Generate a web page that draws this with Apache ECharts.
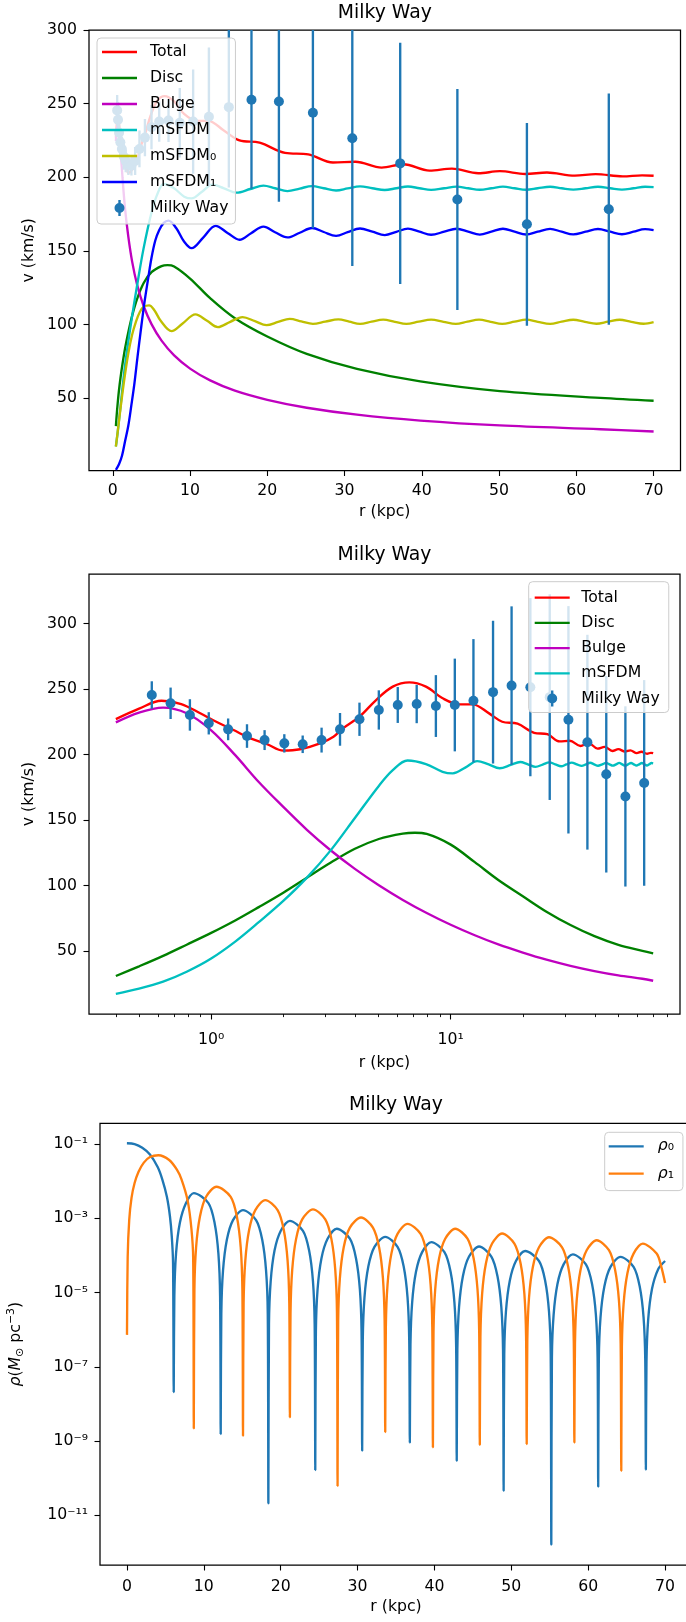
<!DOCTYPE html>
<html>
<head>
<meta charset="utf-8">
<script src="https://cdn.jsdelivr.net/npm/echarts@6.0.0/dist/echarts.min.js"></script>
<style>
html,body{margin:0;padding:0;background:#fff;}
#chart{width:686px;height:1622px;}
</style>
</head>
<body>
<div id="chart"></div>
<script>
// ---------------- DATA ----------------
// Rotation curve components (km/s) vs r (kpc)
const rTotal = [0.4,0.5,0.62,0.75,0.9,1.05,1.24,1.45,1.71,2.0,2.35,2.85,3.24,3.55,4.16,4.88,5.73,6.72,7.88,9.25,10.85,12.33,14.46,16.4,19.0,22.3,25.3,28.5,31.4,34.8,37.6,41.0,43.9,47.3,50.1,53.4,56.2,59.8,62.5,66.0,68.5,70];
const vTotal = [227,235,241,238.5,231.5,225,218.7,212.5,208,203,204,208.5,213.6,220,228.9,241.6,251.8,255.1,251.8,242.9,238.3,238.3,231.4,225,223.5,216.5,215.5,210,210.5,206.5,208.8,204.5,205.8,202.7,204.1,202.2,203.2,201.1,202.1,200.6,201.3,201];

const rDisc = [0.4,0.5,0.63,0.79,1.0,1.26,1.58,2.0,2.51,3.16,3.98,5.01,6.31,7.08,7.94,10,12.6,15.8,20,25.1,31.6,39.8,50.1,63.1,70];
const vDisc = [30.9,38.3,46.3,54.8,63.8,73.3,83.5,94.5,106,117.5,128,135.5,139.6,140.3,139.4,131.2,117.8,104.2,91.8,80,69.8,61.3,54.7,50.1,48.2];

const rBulge = [0.4,0.5,0.63,0.79,1.0,1.26,1.58,2.0,2.51,3.16,3.98,5.01,6.31,7.94,10,12.6,15.8,20,25.1,31.6,39.8,50.1,63.1,70];
const vBulge = [224.5,232,235.8,231.5,218.5,199.5,179,160,142.5,126.7,112.7,100.2,89,79,70,62,55,48.8,43.4,38.7,34.7,31.4,28.8,27.3];

const rSFDM = [0.4,0.5,0.63,0.79,1.0,1.26,1.58,2.0,2.51,3.16,3.98,5.01,5.73,6.6,7.88,9.25,10.2,11.5,12.9,14.4,16.0,17.8,19.5,21.0,22.6,24.2,25.8,27.3,28.9,30.4,32.0,33.6,35.2,36.7,38.2,39.7,41.2,42.9,44.5,46.0,47.5,49.0,50.5,52.0,53.5,55.0,56.6,58.1,59.6,61.2,62.8,64.4,65.9,67.4,68.9,70];
const vSFDM = [17.2,21.2,26.6,34.2,44.3,57.2,72,88.2,106,127,151.5,176,188,195.4,192.7,186.8,185.6,190,195,192.5,189.5,192,194.3,192.5,190.6,192.3,194,192.5,191,192.4,193.8,192.5,191.3,192.5,193.7,192.5,191.4,192.5,193.6,192.5,191.5,192.5,193.6,192.5,191.5,192.5,193.5,192.5,191.6,192.5,193.5,192.5,191.6,192.5,193.5,193.3];

const rSFDM0 = [0.4,0.7,1.0,1.5,2.0,2.5,3.0,3.5,4.0,4.7,5.4,6.2,7.6,9.0,10.7,12.2,13.6,15.2,16.8,18.4,19.9,21.4,22.9,24.4,25.9,27.5,29.2,30.6,32.0,33.5,35.0,36.5,38.0,39.6,41.2,42.8,44.4,45.9,47.4,48.9,50.4,52.0,53.5,55.0,56.6,58.1,59.6,61.1,62.6,64.1,65.6,67.1,68.7,70];
const vSFDM0 = [17,30,43,63,80,93,102,108.5,112,113,109.5,102.5,95.5,100.5,106.8,102.5,98.2,101.8,105,102.2,99.5,101.7,103.8,102.1,100.4,101.9,103.4,101.9,100.4,101.9,103.3,101.8,100.4,101.9,103.3,101.8,100.4,101.9,103.3,101.8,100.4,101.9,103.3,101.8,100.4,101.9,103.2,101.8,100.5,101.9,103.2,101.8,100.5,101.6];

const rSFDM1 = [0.4,0.8,1.2,1.6,2.0,2.4,2.8,3.2,3.6,4.1,4.6,5.0,5.5,6.0,6.6,7.2,8.2,9.2,10.2,11.7,13.3,14.9,16.4,17.9,19.5,21.0,22.6,24.2,25.8,27.3,28.9,30.4,32.0,33.6,35.2,36.7,38.2,39.7,41.2,42.9,44.5,46.0,47.5,49.0,50.5,52.0,53.5,55.0,56.6,58.1,59.6,61.2,62.8,64.4,65.9,67.4,68.9,70];
const vSFDM1 = [1.2,5,11,21,31,45,60,78,95,115,132,145,157,164,169,170.5,165.5,156.5,151.8,159,167,162,157.5,162,166.4,162.6,159.1,162.3,165.5,162.8,160.2,162.7,165.2,163,160.7,162.9,165.1,163,160.9,163,165,163,161,163,165,163,161.1,163,164.9,163,161.2,163,164.8,163,161.3,163,164.7,164.1];

// Milky Way observations: r (kpc), v (km/s), error (km/s)
const rMW = [0.565,0.677,0.815,0.977,1.177,1.411,1.671,2.02,2.41,2.89,3.45,4.16,5.01,6.01,7.21,8.67,10.4,12.44,15.02,17.95,21.5,25.9,31.0,37.2,44.6,53.6,64.2];
const vMW = [245.4,239.1,230.2,223.8,219.2,214.1,211.0,208.5,207.8,211.0,219.2,226.9,234.0,237.8,238.5,237.0,237.8,241.1,247.6,252.6,251.4,243.8,226.5,209.4,184.9,168.0,178.3];
const eMW = [10.5,12,12,8.5,8.3,9,7.6,7,6.7,9.5,12.5,12.7,15,13.7,14.6,23.6,35.4,47,54.5,60.5,68,78.5,86.8,82,75,68.8,78.5];

// Densities rho0, rho1 (M_sun pc^-3) vs r (kpc)
const rRho0 = [0,1,2,3,4,4.6,5.2,5.6,5.84,6.0,6.09,
6.17,6.39,6.89,7.69,8.7,10.6,11.4,11.9,12.12,12.2,
12.28,12.5,13.0,13.8,15.1,16.8,17.6,18.1,18.32,18.4,
18.48,18.7,19.2,20.0,21.2,22.9,23.7,24.2,24.42,24.5,
24.58,24.8,25.3,26.1,27.3,29.0,29.8,30.3,30.52,30.6,
30.68,30.9,31.4,32.2,33.6,35.2,36.0,36.5,36.72,36.8,
36.88,37.1,37.6,38.4,39.6,41.3,42.1,42.6,42.82,42.9,
42.98,43.2,43.7,44.5,45.8,47.4,48.2,48.7,48.92,49.0,
49.08,49.3,49.8,50.6,51.8,53.6,54.4,54.9,55.12,55.2,
55.28,55.5,56.0,56.8,58.0,59.7,60.5,61.0,61.22,61.3,
61.38,61.6,62.1,62.9,64.2,65.9,66.7,67.2,67.42,67.5,
67.58,67.8,68.3,69.1,70.0];
const rho0 = [1.05e-1,1.0e-1,7.94e-2,5.25e-2,2.40e-2,1.12e-2,3.80e-3,1.12e-3,3.16e-4,6.31e-5,2.09e-8,
7.94e-6,1.12e-4,7.59e-4,2.57e-3,4.79e-3,2.57e-3,7.59e-4,1.12e-4,7.94e-6,1.55e-9,
2.75e-6,3.89e-5,2.63e-4,8.91e-4,1.66e-3,8.91e-4,2.63e-4,3.89e-5,2.75e-6,2.09e-11,
1.41e-6,2.0e-5,1.35e-4,4.57e-4,8.51e-4,4.57e-4,1.35e-4,2.0e-5,1.41e-6,1.66e-10,
8.71e-7,1.23e-5,8.32e-5,2.82e-4,5.25e-4,2.82e-4,8.32e-5,1.23e-5,8.71e-7,5.50e-10,
5.25e-7,7.41e-6,5.01e-5,1.70e-4,3.16e-4,1.70e-4,5.01e-5,7.41e-6,5.25e-7,9.12e-10,
3.80e-7,5.37e-6,3.63e-5,1.23e-4,2.29e-4,1.23e-4,3.63e-5,5.37e-6,3.80e-7,2.95e-10,
2.88e-7,4.07e-6,2.75e-5,9.33e-5,1.74e-4,9.33e-5,2.75e-5,4.07e-6,2.88e-7,4.57e-11,
2.19e-7,3.09e-6,2.09e-5,7.08e-5,1.32e-4,7.08e-5,2.09e-5,3.09e-6,2.19e-7,1.62e-12,
1.78e-7,2.51e-6,1.70e-5,5.75e-5,1.07e-4,5.75e-5,1.70e-5,2.51e-6,1.78e-7,5.89e-11,
1.51e-7,2.14e-6,1.45e-5,4.90e-5,9.12e-5,4.90e-5,1.45e-5,2.14e-6,1.51e-7,1.70e-10,
1.32e-7,1.86e-6,1.26e-5,4.27e-5,7.08e-5];

const rRho1 = [0.01,0.1,0.3,0.6,1.0,1.5,2.2,3.0,4.1,5.5,6.5,7.1,7.9,8.4,8.62,8.7,
8.78,9.0,9.5,10.3,11.65,13.5,14.3,14.8,15.02,15.1,
15.18,15.4,15.9,16.7,18.0,19.6,20.4,20.9,21.12,21.2,
21.28,21.5,22.0,22.8,24.2,25.8,26.6,27.1,27.32,27.4,
27.48,27.7,28.2,29.0,30.45,32.0,32.8,33.3,33.52,33.6,
33.68,33.9,34.4,35.2,36.5,38.2,39.0,39.5,39.72,39.8,
39.88,40.1,40.6,41.4,42.7,44.3,45.1,45.6,45.82,45.9,
45.98,46.2,46.7,47.5,48.8,50.4,51.2,51.7,51.92,52.0,
52.08,52.3,52.8,53.6,54.9,56.6,57.4,57.9,58.12,58.2,
58.28,58.5,59.0,59.8,61.1,62.7,63.5,64.0,64.22,64.3,
64.38,64.6,65.1,65.9,67.1,68.9,69.5,70.0];
const rho1 = [7.24e-7,8.91e-5,8.91e-4,3.55e-3,8.91e-3,1.78e-2,3.16e-2,4.47e-2,5.01e-2,3.72e-2,2.04e-2,1.12e-2,3.0e-3,5.0e-4,8.32e-5,2.19e-9,
1.17e-5,1.66e-4,1.12e-3,3.80e-3,7.08e-3,3.80e-3,1.12e-3,1.66e-4,1.17e-5,1.38e-9,
5.13e-6,7.24e-5,4.90e-4,1.66e-3,3.09e-3,1.66e-3,4.90e-4,7.24e-5,5.13e-6,4.37e-9,
2.88e-6,4.07e-5,2.75e-4,9.33e-4,1.74e-3,9.33e-4,2.75e-4,4.07e-5,2.88e-6,6.17e-11,
1.74e-6,2.45e-5,1.66e-4,5.62e-4,1.05e-3,5.62e-4,1.66e-4,2.45e-5,1.74e-6,1.74e-9,
1.17e-6,1.66e-5,1.12e-4,3.80e-4,7.08e-4,3.80e-4,1.12e-4,1.66e-5,1.17e-6,6.76e-10,
8.71e-7,1.23e-5,8.32e-5,2.82e-4,5.25e-4,2.82e-4,8.32e-5,1.23e-5,8.71e-7,7.94e-10,
6.46e-7,9.12e-6,6.17e-5,2.09e-4,3.89e-4,2.09e-4,6.17e-5,9.12e-6,6.46e-7,8.32e-10,
5.13e-7,7.24e-6,4.90e-5,1.66e-4,3.09e-4,1.66e-4,4.90e-5,7.24e-6,5.13e-7,9.12e-10,
4.27e-7,6.03e-6,4.07e-5,1.38e-4,2.57e-4,1.38e-4,4.07e-5,6.03e-6,4.27e-7,1.58e-10,
3.47e-7,4.90e-6,3.31e-5,1.12e-4,2.09e-4,1.12e-4,5.01e-5,1.82e-5];

// Tick values
const xTicksLin = [0,10,20,30,40,50,60,70];
const yTicksV = [50,100,150,200,250,300];
const xTicksLog = [1,10];
const xMinorLog = [0.4,0.5,0.6,0.7,0.8,0.9,2,3,4,5,6,7,8,9,20,30,40,50,60,70,80];
const yTicksRho = [1e-11,1e-9,1e-7,1e-5,1e-3,1e-1];

// ---------------- STYLE ----------------
const FONT = 'DejaVu Sans';
const FS = 15.7;
const COL = {total:'#ff0000', disc:'#008000', bulge:'#bf00bf', sfdm:'#00bfbf', sfdm0:'#bfbf00', sfdm1:'#0000ff', mw:'#1f77b4', rho0:'#1f77b4', rho1:'#ff7f0e'};
const LW = 2.35;
const SUP = {'-':'⁻','0':'⁰','1':'¹','2':'²','3':'³','4':'⁴','5':'⁵','6':'⁶','7':'⁷','8':'⁸','9':'⁹'};
const pow10Label = v => '10' + String(Math.round(Math.log10(v))).split('').map(c => SUP[c]).join('');
const pts = (xs, ys) => xs.map((x, i) => [x, ys[i]]);

const lineIcon = (w, h) => `path://M0,0M${w},${h}M0,${h/2-1.17}L35,${h/2-1.17}L35,${h/2+1.17}L0,${h/2+1.17}Z`;
const errIcon = (w, h) => `path://M0,0M${w},${h}M16.3,0L18.7,0L18.7,${h}L16.3,${h}ZM12.5,${h/2}A5,5,0,1,1,22.5,${h/2}A5,5,0,1,1,12.5,${h/2}Z`;

const labelStyle = {fontFamily: FONT, fontSize: FS, color: '#000', lineHeight: 18};
const tickStyle = (vals, len) => ({show: true, inside: false, customValues: vals, length: len, lineStyle: {color: '#000', width: 1.1}});

function xAxisLin(gi, min, max, nameGap, margin) {
  return {gridIndex: gi, type: 'value', min, max, position: 'bottom',
    axisLine: {show: false, onZero: false}, splitLine: {show: false},
    axisTick: tickStyle(xTicksLin, 5.5),
    axisLabel: Object.assign({customValues: xTicksLin, margin}, labelStyle),
    name: 'r (kpc)', nameLocation: 'middle', nameGap, nameMoveOverlap: false,
    nameTextStyle: {fontFamily: FONT, fontSize: FS, color: '#000', lineHeight: 18}};
}
function yAxisV(gi, min, max) {
  return {gridIndex: gi, type: 'value', min, max, position: 'left',
    axisLine: {show: false, onZero: false}, splitLine: {show: false},
    axisTick: tickStyle(yTicksV, 5.5),
    axisLabel: Object.assign({customValues: yTicksV, margin: 12}, labelStyle),
    name: 'v (km/s)', nameLocation: 'middle', nameGap: 51, nameRotate: 90, nameMoveOverlap: false,
    nameTextStyle: {fontFamily: FONT, fontSize: FS, color: '#000', lineHeight: 18}};
}

function lineSeries(name, xs, ys, color, xi, yi, smooth) {
  return {type: 'line', name, xAxisIndex: xi, yAxisIndex: yi, data: pts(xs, ys),
    showSymbol: false, symbol: 'none', smooth: smooth, clip: true, silent: true,
    lineStyle: {width: LW, color}, itemStyle: {color}, z: 2};
}
function errSeries(xi, yi) {
  return {type: 'custom', name: 'Milky Way', xAxisIndex: xi, yAxisIndex: yi, clip: true, silent: true, z: 3,
    itemStyle: {color: COL.mw},
    encode: {x: 0, y: 1},
    data: rMW.map((r, i) => [r, vMW[i], eMW[i]]),
    renderItem: (params, api) => {
      const x = api.value(0), y = api.value(1), e = api.value(2);
      const cs = params.coordSys;
      const t = api.coord([x, y + e]), b = api.coord([x, y - e]), c = api.coord([x, y]);
      const y1 = Math.max(t[1], cs.y), y2 = Math.min(b[1], cs.y + cs.height);
      return {type: 'group', children: [
        {type: 'line', shape: {x1: t[0], y1: y1, x2: b[0], y2: y2}, style: {stroke: COL.mw, lineWidth: LW}},
        {type: 'circle', shape: {cx: c[0], cy: c[1], r: 5}, style: {fill: COL.mw}}
      ]};
    }};
}

const legendText = {fontFamily: FONT, fontSize: FS, color: '#000', lineHeight: 16};
const legendBox = {orient: 'vertical', backgroundColor: 'rgba(255,255,255,0.8)', borderColor: '#cccccc', borderWidth: 1, borderRadius: 4,
  itemHeight: 16, selectedMode: false, itemStyle: {borderWidth: 0}, textStyle: legendText};

const chart = echarts.init(document.getElementById('chart'), null, {renderer: 'canvas', width: 686, height: 1622});
const gridBase = {show: true, borderColor: '#000', borderWidth: 1.25, backgroundColor: 'transparent', containLabel: false, outerBoundsMode: 'none'};
const titleStyle = {fontFamily: FONT, fontSize: 18.8, fontWeight: 'normal', color: '#000', lineHeight: 22};

const option = {
  animation: false,
  textStyle: {fontFamily: FONT},
  title: [
    {text: 'Milky Way', left: 384.8, top: 1.7, textAlign: 'center', padding: 0, textStyle: titleStyle},
    {text: 'Milky Way', left: 384.5, top: 543.9, textAlign: 'center', padding: 0, textStyle: titleStyle},
    {text: 'Milky Way', left: 396, top: 1094.5, textAlign: 'center', padding: 0, textStyle: titleStyle}
  ],
  grid: [
    Object.assign({left: 89, top: 30, width: 591.5, height: 440.5}, gridBase),
    Object.assign({left: 89, top: 574, width: 591, height: 440}, gridBase),
    Object.assign({left: 100, top: 1123.3, width: 592, height: 441.7}, gridBase)
  ],
  xAxis: [
    xAxisLin(0, -3.08, 73.48, 32.7, 11.4),
    {gridIndex: 1, type: 'log', logBase: 10, min: 0.309, max: 90.6, position: 'bottom',
      axisLine: {show: false, onZero: false}, splitLine: {show: false},
      axisTick: tickStyle(xTicksLog, 5.5),
      axisLabel: Object.assign({customValues: xTicksLog, margin: 16.9, formatter: pow10Label}, labelStyle),
      name: 'r (kpc)', nameLocation: 'middle', nameGap: 40.2, nameMoveOverlap: false,
      nameTextStyle: {fontFamily: FONT, fontSize: FS, color: '#000', lineHeight: 18}},
    {gridIndex: 1, type: 'log', logBase: 10, min: 0.309, max: 90.6, position: 'bottom',
      axisLine: {show: false, onZero: false}, splitLine: {show: false},
      axisTick: {show: true, customValues: xMinorLog, length: 3.1, lineStyle: {color: '#000', width: 0.9}},
      axisLabel: {show: false}},
    xAxisLin(2, -3.5, 73.5, 33, 12.5)
  ],
  yAxis: [
    yAxisV(0, 0.8, 300),
    yAxisV(1, 1.9, 337.8),
    {gridIndex: 2, type: 'log', logBase: 10, min: 4.57e-13, max: 0.363, position: 'left',
      axisLine: {show: false, onZero: false}, splitLine: {show: false},
      axisTick: tickStyle(yTicksRho, 5.5),
      axisLabel: Object.assign({customValues: yTicksRho, margin: 12, formatter: pow10Label}, labelStyle),
      name: '{i|ρ}({i|M}{sub|⊙} pc{sup|−3})', nameLocation: 'middle', nameGap: 74, nameRotate: 90, nameMoveOverlap: false,
      nameTextStyle: {fontFamily: FONT, fontSize: FS, color: '#000', lineHeight: 20,
        rich: {
          i: {fontFamily: FONT, fontSize: FS, fontStyle: 'italic', color: '#000', lineHeight: 20},
          sub: {fontFamily: FONT, fontSize: 11, color: '#000', lineHeight: 12, verticalAlign: 'bottom'},
          sup: {fontFamily: FONT, fontSize: 11, color: '#000', lineHeight: 12, verticalAlign: 'top'}
        }}}
  ],
  legend: [
    Object.assign({}, legendBox, {left: 97, top: 38, padding: [6, 7, 8, 5], itemWidth: 43, itemGap: 10,
      data: [
        {name: 'Total', icon: lineIcon(43, 16)},
        {name: 'Disc', icon: lineIcon(43, 16)},
        {name: 'Bulge', icon: lineIcon(43, 16)},
        {name: 'mSFDM', icon: lineIcon(43, 16)},
        {name: 'mSFDM₀', icon: lineIcon(43, 16)},
        {name: 'mSFDM₁', icon: lineIcon(43, 16)},
        {name: 'Milky Way', icon: errIcon(43, 16)}
      ]}),
    Object.assign({}, legendBox, {left: 528.7, top: 581.7, padding: [8, 9, 6, 6], itemWidth: 41.6, itemGap: 9.2,
      data: [
        {name: 'Total', icon: lineIcon(41.6, 16)},
        {name: 'Disc', icon: lineIcon(41.6, 16)},
        {name: 'Bulge', icon: lineIcon(41.6, 16)},
        {name: 'mSFDM', icon: lineIcon(41.6, 16)},
        {name: 'Milky Way', icon: errIcon(41.6, 16)}
      ]}),
    Object.assign({}, legendBox, {left: 604.7, top: 1132.3, padding: [6, 9, 9, 4], itemWidth: 44, itemGap: 11.3,
      formatter: n => '{i|ρ}' + n.slice(1),
      textStyle: Object.assign({}, legendText, {rich: {i: {fontFamily: FONT, fontSize: FS, fontStyle: 'italic', color: '#000', lineHeight: 16}}}),
      data: [
        {name: 'ρ₀', icon: lineIcon(44, 16)},
        {name: 'ρ₁', icon: lineIcon(44, 16)}
      ]})
  ],
  series: [
    lineSeries('Total', rTotal, vTotal, COL.total, 0, 0, 0.35),
    lineSeries('Disc', rDisc, vDisc, COL.disc, 0, 0, 0.35),
    lineSeries('Bulge', rBulge, vBulge, COL.bulge, 0, 0, 0.35),
    lineSeries('mSFDM', rSFDM, vSFDM, COL.sfdm, 0, 0, 0.35),
    lineSeries('mSFDM₀', rSFDM0, vSFDM0, COL.sfdm0, 0, 0, 0.35),
    lineSeries('mSFDM₁', rSFDM1, vSFDM1, COL.sfdm1, 0, 0, 0.35),
    errSeries(0, 0),
    lineSeries('Total', rTotal, vTotal, COL.total, 1, 1, 0.35),
    lineSeries('Disc', rDisc, vDisc, COL.disc, 1, 1, 0.35),
    lineSeries('Bulge', rBulge, vBulge, COL.bulge, 1, 1, 0.35),
    lineSeries('mSFDM', rSFDM, vSFDM, COL.sfdm, 1, 1, 0.35),
    errSeries(1, 1),
    lineSeries('ρ₀', rRho0, rho0, COL.rho0, 3, 2, 0.3),
    lineSeries('ρ₁', rRho1, rho1, COL.rho1, 3, 2, 0.3)
  ]
};
chart.setOption(option);
</script>
</body>
</html>
